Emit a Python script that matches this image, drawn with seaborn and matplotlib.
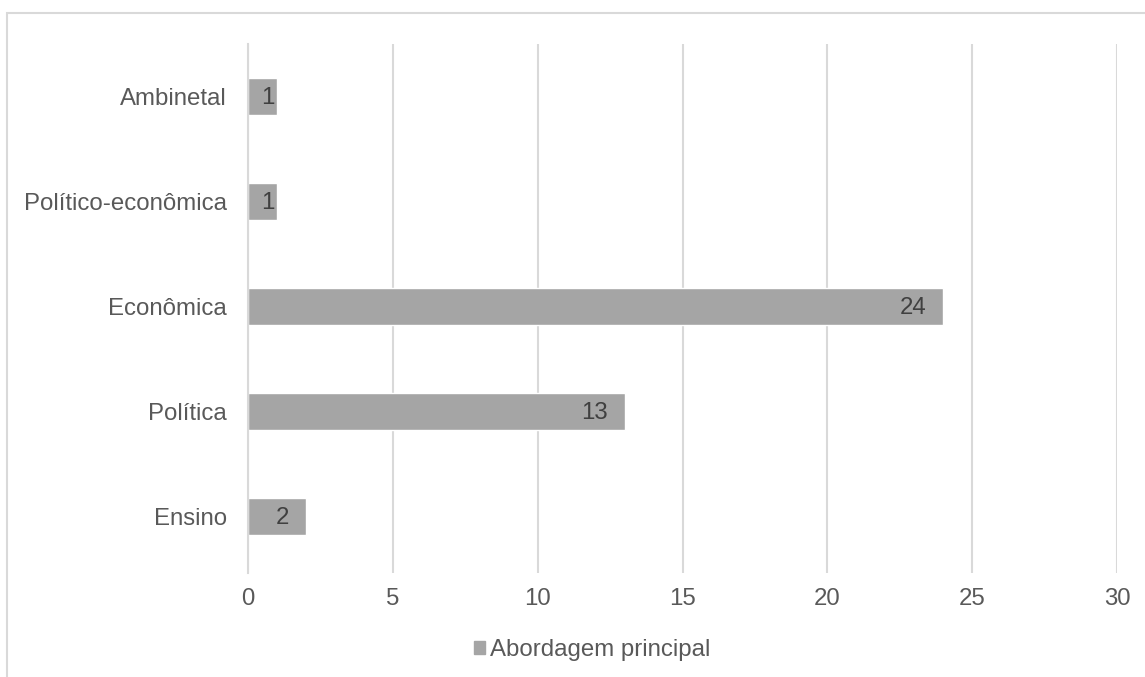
import matplotlib
matplotlib.use("Agg")
import matplotlib.pyplot as plt
import matplotlib.patches as mpatches
import seaborn as sns
import pandas as pd

categories = ["Ambinetal", "Político-econômica", "Econômica", "Política", "Ensino"]
values = [1, 1, 24, 13, 2]
series_name = "Abordagem principal"
xticks = [0, 5, 10, 15, 20, 25, 30]

sns.set_theme(style="white")
plt.rcParams['font.family'] = ['Liberation Sans', 'DejaVu Sans']

df = pd.DataFrame({"cat": categories, "val": values})

W, H = 1145, 677
FS = 17.3
fig = plt.figure(figsize=(W / 100, H / 100), dpi=100)
ax = fig.add_axes([248 / W, 1 - 573 / H, (1117 - 248) / W, (573 - 44) / H])

bar_color = "#a5a5a5"
sns.barplot(data=df, x="val", y="cat", orient="h", color=bar_color,
            width=0.35, ax=ax, saturation=1, order=categories)

ax.set_xlim(0, 30)
ax.set_xticks(xticks)
ax.set_xticklabels([str(t) for t in xticks])
ax.set_ylim(len(categories) - 0.5 + 0.035, -0.5)
ax.grid(axis="x", color="#d9d9d9", linewidth=1.5)
ax.set_axisbelow(True)
for s in ax.spines.values():
    s.set_visible(False)
ax.spines["left"].set_visible(True)
ax.spines["left"].set_color("#d9d9d9")
ax.spines["left"].set_linewidth(1.5)
ax.set_xlabel("")
ax.set_ylabel("")
ax.tick_params(axis="both", length=0, labelsize=FS, labelcolor="#595959")
ax.tick_params(axis="x", pad=11)
ax.tick_params(axis="y", pad=15)

# data labels at the inside end of each bar
px_per_unit = (1117 - 248) / 30
for i, v in enumerate(values):
    bar_px = v * px_per_unit
    off_px = -17 if bar_px >= 40 else -2
    ax.annotate(str(v), xy=(v, i), xytext=(off_px * 72 / 100, -1),
                textcoords="offset points", ha="right", va="center",
                fontsize=FS, color="#404040")

handle = mpatches.Patch(color=bar_color, label=series_name)
leg = fig.legend(handles=[handle], loc="center", bbox_to_anchor=(592 / W, 1 - 650 / H),
                 frameon=False, fontsize=FS, handlelength=0.45, handleheight=0.45,
                 handletextpad=0.2, labelcolor="#595959")

border = mpatches.Rectangle((7 / W, -0.1), 1.2, 1 - 13 / H + 0.1, transform=fig.transFigure,
                            fill=False, edgecolor="#d9d9d9", linewidth=1.5, clip_on=False)
fig.patches.append(border)

fig.savefig("out.png", dpi=100, facecolor="white")
